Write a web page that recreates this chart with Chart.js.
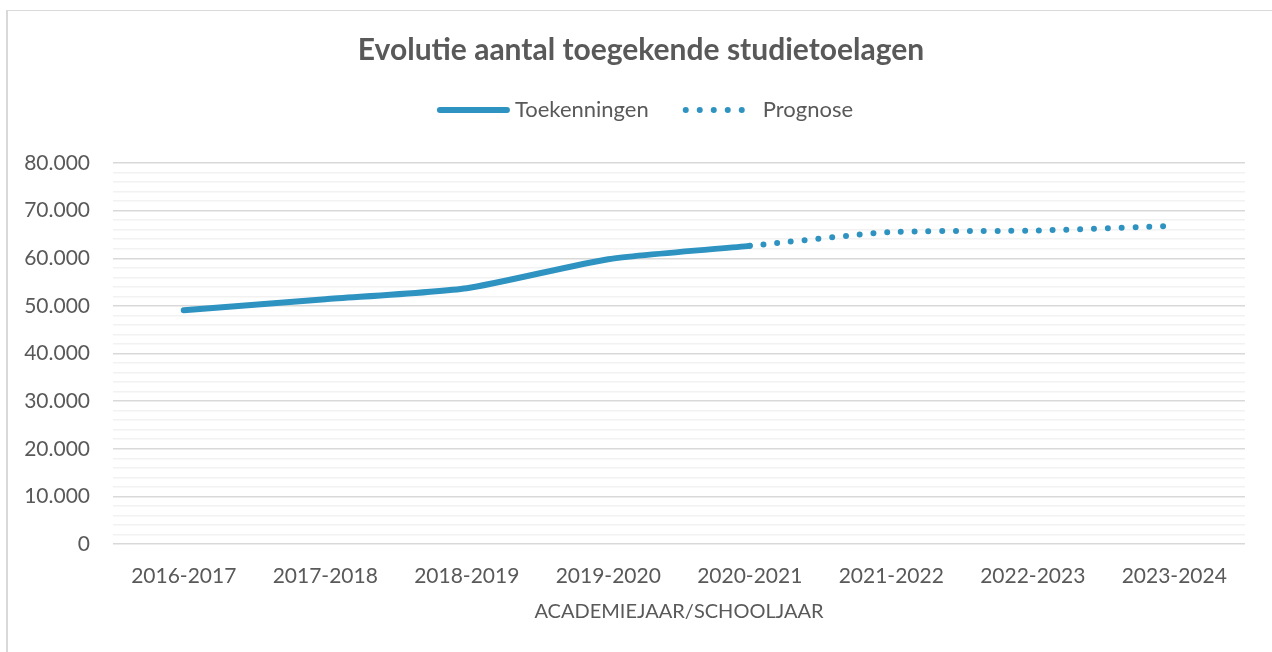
<!DOCTYPE html>
<html>
<head>
<meta charset="utf-8">
<script src="https://cdn.jsdelivr.net/npm/chart.js@4/dist/chart.umd.min.js"></script>
<style>
  html, body { margin: 0; padding: 0; background: #ffffff; }
  body { width: 1272px; height: 652px; position: relative; overflow: hidden; }
  #frame { position: absolute; left: 6px; top: 10px; width: 1400px; height: 800px;
           border-top: 1px solid #d9d9d9; border-left: 2px solid #d9d9d9; box-sizing: border-box; }
  #wrap { position: absolute; left: 0; top: 0; width: 1272px; height: 652px; }
</style>
</head>
<body>
<div id="frame"></div>
<div id="wrap"><canvas id="c" width="1272" height="652"></canvas></div>
<script>
const categories = ["2016-2017", "2017-2018", "2018-2019", "2019-2020", "2020-2021", "2021-2022", "2022-2023", "2023-2024"];
const toekenningen = [49100, 51400, 53700, 59800, 62600, null, null, null];
const prognose = [null, null, null, null, 62600, 65500, 65800, 66800];
const seriesNames = ["Toekenningen", "Prognose"];
const chartTitle = "Evolutie aantal toegekende studietoelagen";
const xAxisTitle = "ACADEMIEJAAR/SCHOOLJAAR";
const yMax = 80000;
const yMajorStep = 10000;
const yMinorStep = 2000;

const FONT = "Lato, 'Open Sans', sans-serif";
const TEXT = "#595959";
const BLUE = "#2E93C1";
const DOT_GAP = 13.8;

function fmt(v) {
  return String(v).replace(/\B(?=(\d{3})+(?!\d))/g, ".");
}

// Title + custom legend (solid line sample + dotted sample), drawn in the header band
const headerPlugin = {
  id: "header",
  afterDraw(chart) {
    const ctx = chart.ctx;
    ctx.save();
    ctx.fillStyle = TEXT;
    ctx.textBaseline = "middle";
    ctx.textAlign = "center";
    ctx.font = "bold 30px " + FONT;
    ctx.fillText(chartTitle, 641, 50);

    const cy = 110;
    ctx.font = "22px " + FONT;
    ctx.textAlign = "left";
    const w1 = ctx.measureText(seriesNames[0]).width;
    const w2 = ctx.measureText(seriesNames[1]).width;
    const solidW = 73, gapT = 5, gapItems = 34, dotsW = 62, gapT2 = 18;
    const total = solidW + gapT + w1 + gapItems + dotsW + gapT2 + w2;
    let x = 645 - total / 2;
    ctx.strokeStyle = BLUE;
    ctx.lineWidth = 6;
    ctx.lineCap = "round";
    ctx.beginPath();
    ctx.moveTo(x + 3, cy);
    ctx.lineTo(x + solidW - 3, cy);
    ctx.stroke();
    x += solidW + gapT;
    ctx.fillText(seriesNames[0], x, cy);
    x += w1 + gapItems;
    ctx.setLineDash([0, 14]);
    ctx.beginPath();
    ctx.moveTo(x + 3, cy);
    ctx.lineTo(x + 3 + 56.5, cy);
    ctx.stroke();
    ctx.setLineDash([]);
    x += dotsW + gapT2;
    ctx.fillText(seriesNames[1], x, cy);
    ctx.restore();
  }
};

new Chart(document.getElementById("c"), {
  type: "line",
  data: {
    labels: categories,
    datasets: [
      {
        label: seriesNames[0],
        data: toekenningen,
        borderColor: BLUE,
        backgroundColor: BLUE,
        borderWidth: 6,
        borderCapStyle: "round",
        borderJoinStyle: "round",
        pointRadius: 0,
        tension: 0.2,
        fill: false
      },
      {
        label: seriesNames[1],
        data: prognose,
        borderColor: BLUE,
        backgroundColor: BLUE,
        borderWidth: 6,
        borderCapStyle: "round",
        borderDash: [0, DOT_GAP],
        pointRadius: 0,
        tension: 0.2,
        fill: false
      }
    ]
  },
  options: {
    responsive: false,
    animation: false,
    devicePixelRatio: 1,
    layout: { padding: { left: 0, right: 27, top: 163, bottom: 0 } },
    plugins: {
      title: { display: false },
      legend: { display: false },
      tooltip: { enabled: false }
    },
    scales: {
      x: {
        offset: true,
        afterFit: (scale) => { scale.height = 108; },
        grid: { display: false, drawTicks: false, offset: true },
        border: { display: false },
        ticks: { color: TEXT, font: { family: FONT, size: 21 }, padding: 20, maxRotation: 0 },
        title: {
          display: true,
          text: xAxisTitle,
          color: TEXT,
          font: { family: FONT, size: 20 },
          padding: { top: 0, bottom: 28 }
        }
      },
      y: {
        min: 0,
        max: yMax,
        afterFit: (scale) => { scale.width = 113; },
        border: { display: false },
        grid: {
          drawTicks: false,
          lineWidth: 1.5,
          color: (ctx) => (ctx.tick && ctx.tick.value % yMajorStep === 0) ? "#d9d9d9" : "#f2f2f2"
        },
        ticks: {
          stepSize: yMinorStep,
          autoSkip: false,
          color: TEXT,
          font: { family: FONT, size: 21 },
          padding: 23,
          callback: (v) => (v % yMajorStep === 0) ? fmt(v) : ""
        }
      }
    }
  },
  plugins: [headerPlugin]
});
</script>
</body>
</html>
